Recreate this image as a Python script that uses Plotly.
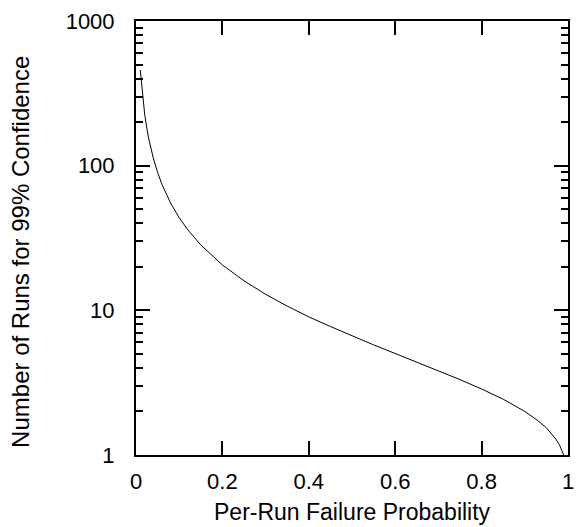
import plotly.graph_objects as go

failure_prob = [0.01, 0.015, 0.02, 0.025, 0.03, 0.04, 0.05, 0.06, 0.08, 0.1, 0.12, 0.15,
                0.2, 0.25, 0.3, 0.35, 0.4, 0.45, 0.5, 0.55, 0.6, 0.65, 0.7, 0.75, 0.8,
                0.85, 0.9, 0.93, 0.95, 0.97, 0.98, 0.99]
runs_needed = [458, 305, 228, 182, 151, 113, 89.8, 74.4, 55.2, 43.7, 36.0, 28.3,
               20.6, 16.0, 12.9, 10.7, 9.01, 7.73, 6.64, 5.77, 5.03, 4.39, 3.82, 3.32, 2.86,
               2.43, 2.0, 1.73, 1.54, 1.31, 1.18, 1.0]

x_ticks = [0, 0.2, 0.4, 0.6, 0.8, 1]
x_tick_labels = ["0", "0.2", "0.4", "0.6", "0.8", "1"]
y_ticks = [1, 10, 100, 1000]
y_tick_labels = ["1", "10", "100", "1000"]

fig = go.Figure()
fig.add_trace(go.Scatter(x=failure_prob, y=runs_needed, mode="lines",
                         line=dict(color="black", width=1), showlegend=False))

family = "Liberation Sans, Arial, sans-serif"
tick_font = dict(family=family, size=22, color="black")
fig.update_layout(
    width=578, height=527,
    margin=dict(l=136, r=10, t=21, b=72),
    paper_bgcolor="white", plot_bgcolor="white",
    font=tick_font,
    xaxis=dict(range=[0, 1], tickvals=x_ticks, ticktext=x_tick_labels,
               ticks="inside", ticklen=14, tickwidth=2, tickcolor="black",
               showline=True, linewidth=2, linecolor="black", mirror="allticks",
               showgrid=False, zeroline=False, automargin=False,
               tickfont=tick_font, ticklabelstandoff=6),
    yaxis=dict(type="log", range=[0, 3], tickvals=y_ticks, ticktext=y_tick_labels,
               ticks="inside", ticklen=14, tickwidth=2, tickcolor="black",
               showline=True, linewidth=2, linecolor="black", mirror="allticks",
               showgrid=False, zeroline=False, automargin=False,
               tickfont=tick_font, ticklabelstandoff=15,
               minor=dict(ticks="inside", ticklen=7, tickwidth=2, tickcolor="black",
                          dtick="D1", showgrid=False)),
    annotations=[
        dict(text="Per-Run Failure Probability", xref="paper", yref="paper",
             x=0.5, y=0, xanchor="center", yanchor="middle", yshift=-57,
             showarrow=False, font=dict(family=family, size=23, color="black")),
        dict(text="Number of Runs for 99% Confidence", xref="paper", yref="paper",
             x=0, y=0.468, xanchor="center", yanchor="middle", xshift=-115,
             textangle=-90, showarrow=False,
             font=dict(family=family, size=24, color="black")),
    ],
)
fig.write_html("out.html", config={"displayModeBar": False},
               post_script="document.body.style.margin='0';")
